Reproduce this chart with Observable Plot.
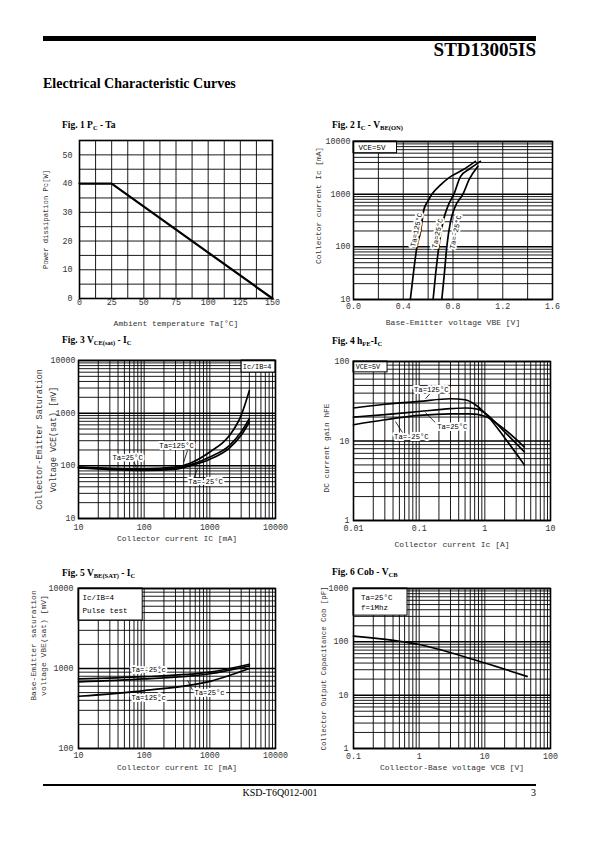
<!DOCTYPE html>
<html><head><meta charset="utf-8">
<script src="https://cdn.jsdelivr.net/npm/d3@7"></script>
<script src="https://cdn.jsdelivr.net/npm/@observablehq/plot@0.6"></script>
<style>
body{margin:0;background:#fff;}
#page{position:relative;width:595px;height:842px;background:#fff;overflow:hidden;font-family:"Liberation Serif","Times New Roman",serif;color:#000;}
.abs{position:absolute;}
.bar{position:absolute;background:#000;}
.title{position:absolute;font-weight:bold;font-size:9.5px;white-space:nowrap;line-height:1;}
.title sub{font-size:6.5px;vertical-align:-2px;}
.plotbox{position:absolute;}
.plotbox svg{display:block;overflow:visible;}
</style></head>
<body><div id="page">
<div class="bar" style="left:43px;top:36px;width:493px;height:5px"></div>
<div class="abs" style="right:59px;top:40px;font-weight:bold;font-size:19px;line-height:1">STD13005IS</div>
<div class="abs" style="left:43px;top:77px;font-weight:bold;font-size:14px;line-height:1">Electrical Characteristic Curves</div>
<div class="title" style="left:62px;top:121px">Fig. 1 P<sub>C</sub> - Ta</div>
<div class="title" style="left:332px;top:121px">Fig. 2 I<sub>C</sub> - V<sub>BE(ON)</sub></div>
<div class="title" style="left:62px;top:336px">Fig. 3 V<sub>CE(sat)</sub> - I<sub>C</sub></div>
<div class="title" style="left:332px;top:337px">Fig. 4 h<sub>FE</sub>-I<sub>C</sub></div>
<div class="title" style="left:62px;top:569px">Fig. 5 V<sub>BE(SAT)</sub> - I<sub>C</sub></div>
<div class="title" style="left:332px;top:568px">Fig. 6 Cob - V<sub>CB</sub></div>
<div class="bar" style="left:43px;top:784px;width:493px;height:2px"></div>
<div class="abs" style="left:0;width:560px;text-align:center;top:788px;font-size:10px;line-height:1">KSD-T6Q012-001</div>
<div class="abs" style="right:59px;top:788px;font-size:10px;line-height:1">3</div>
</div>
<script>
// ---------- Fig 1 data: Pc vs Ta ----------
const f1Ta = [0, 25, 150];
const f1Pc = [40, 40, 0];
const f1XTicks = [0, 25, 50, 75, 100, 125, 150];
const f1XLabels = ["0", "25", "50", "75", "100", "125", "150"];
const f1YTicks = [0, 10, 20, 30, 40, 50];
const f1YLabels = ["0", "10", "20", "30", "40", "50"];

// ---------- Fig 2 data: Ic vs VBE(on) ----------
const f2Series = ["Ta=125°C", "Ta=25°C", "Ta=-25°C"];
const f2Vbe125 = [0.457, 0.484, 0.51, 0.54, 0.565, 0.60, 0.63, 0.70, 0.78, 0.88, 0.98];
const f2Ic125  = [10, 35, 100, 200, 500, 750, 1000, 1500, 2150, 2900, 4200];
const f2Vbe25  = [0.64, 0.66, 0.686, 0.72, 0.76, 0.807, 0.86, 0.94, 1.02];
const f2Ic25   = [10, 30, 100, 300, 600, 1000, 2150, 3100, 4200];
const f2VbeM25 = [0.71, 0.73, 0.75, 0.78, 0.82, 0.88, 0.93, 1.0];
const f2IcM25  = [10, 30, 100, 300, 600, 1000, 1900, 3400];
const f2XTicks = [0, 0.4, 0.8, 1.2, 1.6];
const f2XLabels = ["0.0", "0.4", "0.8", "1.2", "1.6"];
const f2XGrid = [0.2, 0.4, 0.6, 0.8, 1.0, 1.2, 1.4];
const f2YTicks = [10, 100, 1000, 10000];
const f2YLabels = ["10", "100", "1000", "10000"];

// ---------- Fig 3 data: VCE(sat) vs Ic ----------
const f3Ic = [10, 30, 100, 300, 500, 1000, 2000, 3000, 4000];
const f3V125 = [95, 90, 88, 95, 112, 183, 380, 910, 2700];
const f3V25  = [94, 88, 85, 90, 104, 147, 245, 440, 785];
const f3VM25 = [91, 85, 82, 86, 100, 133, 220, 380, 680];
const f3XTicks = [10, 100, 1000, 10000];
const f3XLabels = ["10", "100", "1000", "10000"];
const f3YTicks = [10, 100, 1000, 10000];
const f3YLabels = ["10", "100", "1000", "10000"];

// ---------- Fig 4 data: hFE vs Ic ----------
const f4Ic125 = [0.01, 0.03, 0.1, 0.3, 0.5, 0.7, 1, 2, 4];
const f4H125  = [26, 29, 31.5, 34, 33, 29, 22.5, 11, 5];
const f4Ic25  = [0.01, 0.03, 0.1, 0.3, 0.5, 0.8, 1, 2, 4];
const f4H25   = [20, 21.5, 23.5, 25.5, 26, 25, 22.5, 13, 7.3];
const f4IcM25 = [0.01, 0.03, 0.1, 0.3, 0.6, 1, 2, 4];
const f4HM25  = [16, 18.5, 21, 22, 22, 20.5, 14, 8.4];
const f4XTicks = [0.01, 0.1, 1, 10];
const f4XLabels = ["0.01", "0.1", "1", "10"];
const f4YTicks = [1, 10, 100];
const f4YLabels = ["1", "10", "100"];

// ---------- Fig 5 data: VBE(sat) vs Ic ----------
const f5Ic = [10, 100, 1000, 4000];
const f5VM25 = [740, 790, 900, 1130];
const f5V25  = [680, 740, 860, 1080];
const f5V125 = [450, 530, 690, 1000];
const f5XTicks = [10, 100, 1000, 10000];
const f5XLabels = ["10", "100", "1000", "10000"];
const f5YTicks = [100, 1000, 10000];
const f5YLabels = ["100", "1000", "10000"];

// ---------- Fig 6 data: Cob vs VCB ----------
const f6Vcb = [0.1, 1, 10, 44];
const f6Cob = [128, 89, 40, 22.5];
const f6XTicks = [0.1, 1, 10, 100];
const f6XLabels = ["0.1", "1", "10", "100"];
const f6YTicks = [1, 10, 100, 1000];
const f6YLabels = ["1", "10", "100", "1000"];

// ---------- helpers ----------
const zip = (xs, ys, s) => xs.map((x, i) => ({x, y: ys[i], s}));
function logGrid(lo, hi) {
  const out = [];
  const e0 = Math.round(Math.log10(lo)), e1 = Math.round(Math.log10(hi));
  for (let e = e0; e < e1; e++) for (let m = 1; m < 10; m++) out.push(+(m * Math.pow(10, e)).toPrecision(6));
  out.push(hi);
  return out;
}
const isDecade = v => Math.abs(Math.log10(v) - Math.round(Math.log10(v))) < 1e-9;
const MONO = "'Liberation Mono', 'DejaVu Sans Mono', monospace";
const INK = "#000";
const TXT = "#333";

function chart(c) {
  const mL = 52, mR = 16, mT = 6, mB = 34;
  const marks = [];
  const xg = c.xGrid, yg = c.yGrid;
  marks.push(Plot.ruleX(xg.filter(v => !(c.xDecadeBold && isDecade(v))), {stroke: INK, strokeWidth: 0.9}));
  marks.push(Plot.ruleY(yg.filter(v => !(c.yDecadeBold && isDecade(v))), {stroke: INK, strokeWidth: 0.9}));
  if (c.xDecadeBold) marks.push(Plot.ruleX(xg.filter(isDecade), {stroke: INK, strokeWidth: 1.5}));
  if (c.yDecadeBold) marks.push(Plot.ruleY(yg.filter(isDecade), {stroke: INK, strokeWidth: 1.5}));
  if (c.boxes) for (const b of c.boxes) marks.push(Plot.rect([b], {x1: "x1", x2: "x2", y1: "y1", y2: "y2", fill: "white", stroke: INK, strokeWidth: 1}));
  marks.push(Plot.line(c.data, {x: "x", y: "y", z: "s", curve: c.curve || "monotone-x", stroke: INK, strokeWidth: c.lineWidth || 1.7}));
  if (c.leaders) marks.push(Plot.link(c.leaders, {x1: "x1", y1: "y1", x2: "x2", y2: "y2", stroke: INK, strokeWidth: 0.8}));
  if (c.labels) marks.push(Plot.text(c.labels, {x: "x", y: "y", text: "t", rotate: c.labelRotate || 0, textAnchor: "middle", fontFamily: MONO, fontSize: 7.2, fill: INK, stroke: "white", strokeWidth: 4}));
  if (c.boxText) marks.push(Plot.text(c.boxText, {x: "x", y: "y", text: "t", textAnchor: "start", fontFamily: MONO, fontSize: c.boxTextSize || 7.5, fill: INK}));
  marks.push(Plot.frame({stroke: INK, strokeWidth: 1.6}));
  const xm = new Map(c.xTicks.map((t, i) => [t, c.xLabels[i]]));
  const ym = new Map(c.yTicks.map((t, i) => [t, c.yLabels[i]]));
  marks.push(Plot.axisX({ticks: c.xTicks, tickFormat: d => xm.get(d), tickSize: 0, tickPadding: c.xPad, label: null, fontFamily: MONO, fontSize: 8.3, fill: TXT}));
  marks.push(Plot.axisY({ticks: c.yTicks, tickFormat: d => ym.get(d), tickSize: 0, tickPadding: c.yPad, label: null, fontFamily: MONO, fontSize: 8.3, fill: TXT}));
  marks.push(Plot.text([c.xTitle], {frameAnchor: "bottom", dy: c.xTitleDy, text: d => d, textAnchor: "middle", lineAnchor: "middle", fontFamily: MONO, fontSize: 8, fill: TXT}));
  marks.push(Plot.text([c.yTitle], {frameAnchor: "left", dx: c.yTitleDx, dy: c.yTitleDy || 0, rotate: -90, text: d => d, textAnchor: "middle", lineAnchor: "middle", lineHeight: c.yLineHeight || 1.2, fontFamily: MONO, fontSize: c.yTitleSize || 7.8, fill: TXT}));
  const p = Plot.plot({
    width: c.W + mL + mR, height: c.H + mT + mB,
    marginLeft: mL, marginRight: mR, marginTop: mT, marginBottom: mB,
    x: {type: c.xType, domain: c.xDomain},
    y: {type: c.yType, domain: c.yDomain},
    style: {background: "transparent", overflow: "visible"},
    marks
  });
  const div = document.createElement("div");
  div.className = "plotbox";
  div.style.left = (c.L - mL) + "px";
  div.style.top = (c.T - mT) + "px";
  div.appendChild(p);
  document.getElementById("page").appendChild(div);
}

// Fig 1
chart({
  L: 79, T: 140, W: 193, H: 158,
  xType: "linear", xDomain: [0, 150], yType: "linear", yDomain: [0, 55],
  xGrid: d3.range(0, 150.1, 12.5), yGrid: d3.range(0, 55.1, 5),
  data: zip(f1Ta, f1Pc, "Pc"), curve: "linear", lineWidth: 2.2,
  xTicks: f1XTicks, xLabels: f1XLabels, yTicks: f1YTicks, yLabels: f1YLabels,
  xPad: 1, yPad: 7,
  xTitle: "Ambient temperature Ta[°C]", xTitleDy: 25,
  yTitle: "Power dissipation Pc[W]", yTitleDx: -34, yTitleSize: 7.2
});

// Fig 2
chart({
  L: 353, T: 141, W: 199, H: 158,
  xType: "linear", xDomain: [0, 1.6], yType: "log", yDomain: [10, 10000],
  xGrid: f2XGrid, yGrid: logGrid(10, 10000), yDecadeBold: true,
  data: [...zip(f2Vbe125, f2Ic125, f2Series[0]), ...zip(f2Vbe25, f2Ic25, f2Series[1]), ...zip(f2VbeM25, f2IcM25, f2Series[2])],
  xTicks: f2XTicks, xLabels: f2XLabels, yTicks: f2YTicks, yLabels: f2YLabels,
  xPad: 4, yPad: 3,
  boxes: [{x1: 0, x2: 0.35, y1: 6000, y2: 10000}],
  boxText: [{x: 0.04, y: 7700, t: "VCE=5V"}],
  labels: [{x: 0.505, y: 210, t: f2Series[0]}, {x: 0.675, y: 180, t: f2Series[1]}, {x: 0.82, y: 190, t: f2Series[2]}],
  labelRotate: -78,
  xTitle: "Base-Emitter voltage VBE [V]", xTitleDy: 23,
  yTitle: "Collector current Ic [mA]", yTitleDx: -36, yTitleDy: -15
});

// Fig 3
chart({
  L: 78, T: 360, W: 197, H: 158,
  xType: "log", xDomain: [10, 10000], yType: "log", yDomain: [10, 10000],
  xGrid: logGrid(10, 10000), yGrid: logGrid(10, 10000), yDecadeBold: true,
  data: [...zip(f3Ic, f3V125, "125"), ...zip(f3Ic, f3V25, "25"), ...zip(f3Ic, f3VM25, "-25")],
  xTicks: f3XTicks, xLabels: f3XLabels, yTicks: f3YTicks, yLabels: f3YLabels,
  xPad: 6, yPad: 3,
  boxes: [{x1: 3050, x2: 10000, y1: 5900, y2: 10000}],
  boxText: [{x: 3180, y: 7600, t: "Ic/IB=4"}], boxTextSize: 6.8,
  leaders: [{x1: 457, y1: 194, x2: 398, y2: 115}, {x1: 69, y1: 125, x2: 76, y2: 92}, {x1: 565, y1: 57, x2: 650, y2: 88}],
  labels: [{x: 312, y: 240, t: "Ta=125°C"}, {x: 56, y: 143, t: "Ta=25°C"}, {x: 862, y: 50, t: "Ta=-25°C"}],
  xTitle: "Collector current IC [mA]", xTitleDy: 20,
  yTitle: "Collector-Emitter Saturation\nVoltage VCE(sat) [mV]", yTitleDx: -34, yLineHeight: 1.65, yTitleSize: 8.4
});

// Fig 4
chart({
  L: 353, T: 361, W: 197, H: 159,
  xType: "log", xDomain: [0.01, 10], yType: "log", yDomain: [1, 100],
  xGrid: logGrid(0.01, 10), yGrid: logGrid(1, 100), yDecadeBold: true,
  data: [...zip(f4Ic125, f4H125, "125"), ...zip(f4Ic25, f4H25, "25"), ...zip(f4IcM25, f4HM25, "-25")],
  xTicks: f4XTicks, xLabels: f4XLabels, yTicks: f4YTicks, yLabels: f4YLabels,
  xPad: 5, yPad: 4,
  boxes: [{x1: 0.01, x2: 0.033, y1: 73, y2: 100}],
  boxText: [{x: 0.0108, y: 86, t: "VCE=5V"}], boxTextSize: 6.8,
  leaders: [{x1: 0.16, y1: 43, x2: 0.125, y2: 34}, {x1: 0.176, y1: 17.1, x2: 0.124, y2: 22.8}, {x1: 0.0556, y1: 12.8, x2: 0.0435, y2: 17.6}],
  labels: [{x: 0.153, y: 44.5, t: "Ta=125°C"}, {x: 0.32, y: 15.2, t: "Ta=25°C"}, {x: 0.076, y: 11.4, t: "Ta=-25°C"}],
  xTitle: "Collector current Ic [A]", xTitleDy: 24,
  yTitle: "DC current gain hFE", yTitleDx: -28, yTitleDy: 7
});

// Fig 5
chart({
  L: 78, T: 588, W: 197, H: 160,
  xType: "log", xDomain: [10, 10000], yType: "log", yDomain: [100, 10000],
  xGrid: logGrid(10, 10000), yGrid: logGrid(100, 10000), yDecadeBold: true,
  data: [...zip(f5Ic, f5VM25, "-25"), ...zip(f5Ic, f5V25, "25"), ...zip(f5Ic, f5V125, "125")],
  xTicks: f5XTicks, xLabels: f5XLabels, yTicks: f5YTicks, yLabels: f5YLabels,
  xPad: 4, yPad: 5,
  boxes: [{x1: 10, x2: 95, y1: 3980, y2: 10000}],
  boxText: [{x: 11.5, y: 7600, t: "Ic/IB=4"}, {x: 11.5, y: 5300, t: "Pulse test"}],
  leaders: [{x1: 547, y1: 535, x2: 457, y2: 712}],
  labels: [{x: 117, y: 955, t: "Ta=-25°c"}, {x: 117, y: 437, t: "Ta=125°c"}, {x: 990, y: 505, t: "Ta=25°c"}],
  xTitle: "Collector current IC [mA]", xTitleDy: 19,
  yTitle: "Base-Emitter saturation\nvoltage VBE(sat) [mV]", yTitleDx: -41, yTitleDy: -23, yLineHeight: 1.25, yTitleSize: 8
});

// Fig 6
chart({
  L: 353, T: 588, W: 197, H: 160,
  xType: "log", xDomain: [0.1, 100], yType: "log", yDomain: [1, 1000],
  xGrid: logGrid(0.1, 100), yGrid: logGrid(1, 1000), yDecadeBold: true,
  data: zip(f6Vcb, f6Cob, "Cob"),
  xTicks: f6XTicks, xLabels: f6XLabels, yTicks: f6YTicks, yLabels: f6YLabels,
  xPad: 5, yPad: 5,
  boxes: [{x1: 0.1, x2: 0.665, y1: 310, y2: 1000}],
  boxText: [{x: 0.13, y: 680, t: "Ta=25°C"}, {x: 0.13, y: 440, t: "f=1Mhz"}],
  xTitle: "Collector-Base voltage VCB [V]", xTitleDy: 19,
  yTitle: "Collector Output Capacitance Cob [pF]", yTitleDx: -30, yTitleSize: 7.4
});
</script>
</body></html>
